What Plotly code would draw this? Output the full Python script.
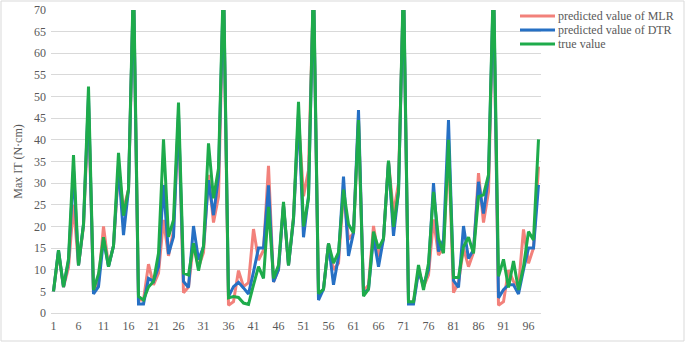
import plotly.graph_objects as go

x_index = list(range(1, 99))

mlr = [5, 14, 6, 10.5, 25, 11, 20, 48, 5, 7,
       20, 11, 15.5, 33, 24, 28.5, 75, 3, 3, 11.3,
       6.5, 9.2, 21.5, 13.2, 19, 45, 4.7, 6, 16.1, 10.5,
       14, 31.9, 20.9, 26.9, 75, 1.8, 2.6, 9.8, 6.1, 7,
       19.4, 12.2, 14.5, 34, 7.2, 10, 25, 11, 22, 45,
       27, 33, 75, 4, 5.5, 16, 10, 11.5, 28, 17,
       18.5, 45, 5, 6.5, 20.1, 13, 17.2, 35, 23, 30,
       75, 2.5, 2.5, 10, 6, 8.8, 21.6, 13.4, 15, 38,
       4.7, 7, 15, 10.7, 14, 32.3, 20.9, 28, 75, 1.8,
       2.6, 9.9, 7.3, 6, 19.3, 11.5, 15, 33.8]

dtr = [5, 14.5, 6, 12, 33, 11, 20.5, 50, 4.4, 6.1,
       17, 10.7, 15.5, 34, 18, 28.5, 76, 2.1, 2.1, 8,
       7.3, 10.7, 29.6, 13.6, 17.6, 46, 7.3, 5.9, 20.1, 12.3,
       15.3, 30.7, 22.6, 31.5, 76, 3.8, 6.1, 7.1, 5.8, 4.4,
       9.5, 15, 15, 29.5, 7.2, 10, 25, 11, 21.5, 46,
       17.5, 27, 76, 3, 5.5, 16, 6.5, 13, 31.5, 13.2,
       18.5, 46.9, 4.5, 5.5, 17.5, 10.7, 17.2, 35, 17.8, 28,
       76, 2.1, 2.1, 9.5, 6.5, 10, 30, 14.2, 16.9, 44.6,
       7.5, 5.9, 20.1, 12.6, 14.6, 30.3, 23, 31.5, 76, 3.5,
       5.4, 6.5, 6.5, 4.4, 10, 15, 15, 29.6]

true_val = [5, 14.5, 6, 12.5, 36.5, 11, 20.5, 52.3, 5.3, 9,
            17.5, 10.7, 15.5, 37, 22.5, 28.5, 78, 3.8, 3, 6,
            7.3, 13.8, 40.1, 17.6, 21.5, 48.6, 9.2, 8.8, 16.1, 9.8,
            15.5, 39.2, 26.5, 33.4, 78, 3.5, 3.8, 3.6, 2.3, 2,
            6.5, 10.7, 8, 24.5, 8, 11, 25.7, 11, 22, 48.8,
            20, 26.5, 78, 4.5, 5.5, 16.1, 11.5, 14, 28.5, 20.5,
            18.5, 44.6, 3.9, 5.5, 18.8, 14.9, 17.2, 35.2, 19.9, 28,
            78, 2.6, 2.6, 11.1, 5.3, 11.5, 28, 17.2, 13.8, 40,
            8.2, 8.2, 15.3, 17.5, 13.8, 26.9, 27.3, 31.9, 78, 8.5,
            12.4, 5.9, 12, 5.3, 10.7, 18.8, 16.9, 40.1]

tick_vals = list(range(1, 99, 5))
tick_text = [str(v) for v in tick_vals]
y_ticks = list(range(0, 71, 5))

series_names = ["predicted value of MLR", "predicted value of DTR", "true value"]
colors = ["#F2817B", "#2670C4", "#1EAB4B"]

font_family = "Liberation Serif, Times New Roman, serif"
text_color = "#595959"

fig = go.Figure()
for name, vals, col in zip(series_names, [mlr, dtr, true_val], colors):
    fig.add_trace(go.Scatter(x=x_index, y=vals, mode="lines", name=name,
                             line=dict(color=col, width=3), showlegend=False))

PL, PW, PT, PH = 51, 490, 10, 303


def px_to_paper_x(px):
    return (px - PL) / PW


def px_to_paper_y(py):
    return (PT + PH - py) / PH


# legend drawn manually (compact row spacing like the original)
legend_rows = [16, 30, 44]
for name, col, row in zip(series_names, colors, legend_rows):
    fig.add_shape(type="line", xref="paper", yref="paper",
                  x0=px_to_paper_x(520), x1=px_to_paper_x(555),
                  y0=px_to_paper_y(row), y1=px_to_paper_y(row),
                  line=dict(color=col, width=3))
    fig.add_annotation(xref="paper", yref="paper", x=px_to_paper_x(556), y=px_to_paper_y(row),
                       text=name, showarrow=False, xanchor="left", yanchor="middle",
                       font=dict(family=font_family, size=12, color=text_color))

fig.update_layout(
    width=685, height=342,
    margin=dict(l=PL, r=685 - PL - PW, t=PT, b=342 - PT - PH),
    paper_bgcolor="white", plot_bgcolor="white",
    font=dict(family=font_family, size=12, color=text_color),
    showlegend=False,
    xaxis=dict(range=[0.5, 98.5], tickmode="array", tickvals=tick_vals, ticktext=tick_text,
               showgrid=False, zeroline=False, showline=False, ticks="", automargin=False,
               ticklabelstandoff=4,
               tickfont=dict(family=font_family, size=12, color=text_color)),
    yaxis=dict(range=[0, 70], tickmode="array", tickvals=y_ticks, automargin=False,
               showgrid=True, gridcolor="#D9D9D9", gridwidth=1, zeroline=True,
               zerolinecolor="#D9D9D9", zerolinewidth=1, showline=False, ticks="",
               ticklabelstandoff=4,
               tickfont=dict(family=font_family, size=12, color=text_color),
               title=dict(text="Max IT (N·cm)", standoff=8,
                          font=dict(family=font_family, size=12, color=text_color))),
)

fig.add_shape(type="rect", xref="paper", yref="paper",
              x0=px_to_paper_x(1), x1=px_to_paper_x(684),
              y0=px_to_paper_y(341), y1=px_to_paper_y(1),
              line=dict(color="#D9D9D9", width=1), fillcolor="rgba(0,0,0,0)", layer="below")

fig.write_html("out.html", config={"displayModeBar": False},
               post_script="document.body.style.margin='0';")
